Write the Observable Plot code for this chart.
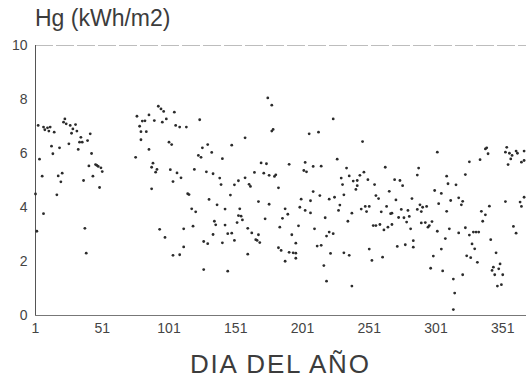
<!DOCTYPE html>
<html>
<head>
<meta charset="utf-8">
<script src="https://cdn.jsdelivr.net/npm/d3@7"></script>
<script src="https://cdn.jsdelivr.net/npm/@observablehq/plot@0.6"></script>
<style>
  html, body { margin: 0; padding: 0; background: #fff; }
  #wrap { position: relative; width: 526px; height: 379px; overflow: hidden; font-family: "Liberation Sans", Arial, sans-serif; color: #3c3c3c; }
  #chart { position: absolute; left: 0; top: 0; }
  .title { position: absolute; left: 35px; top: 7px; font-size: 23px; line-height: 1; white-space: nowrap; }
  .xlabel { position: absolute; left: 190px; top: 351px; font-size: 26px; line-height: 1; letter-spacing: 1.8px; white-space: nowrap; }
</style>
</head>
<body>
<div id="wrap">
  <div id="chart"></div>
  <div class="title">Hg (kWh/m2)</div>
  <div class="xlabel">DIA DEL AÑO</div>
</div>
<script>
const dia = [
  3,7,8,10,11,12,15,23,22,24,27,29,31,28,32,35,34,36,40,42,13,19,26,14,33,43,4,41,46,47,48,50,51,44,6,18,21,20,37,49,1,17,7,2,38,39,
  93,95,97,105,77,86,81,83,90,96,99,79,106,109,114,80,84,80,101,103,86,76,89,88,92,91,102,107,110,104,120,88,115,116,118,94,98,112,119,112,104,109,
  175,178,124,178,179,158,130,126,148,123,125,133,141,170,174,129,134,139,140,165,172,176,180,158,153,150,161,162,147,131,137,143,168,176,121,154,153,155,156,152,135,136,143,173,160,163,168,166,167,169,134,145,148,127,130,141,150,160,127,145,
  224,206,213,227,191,203,202,204,209,215,234,181,230,236,239,231,183,209,214,200,207,221,225,232,229,188,199,203,207,190,228,186,218,238,235,184,198,210,221,224,219,193,196,183,185,191,194,196,196,222,212,215,232,236,188,217,219,238,
  246,263,288,287,244,247,242,242,241,250,255,270,274,276,266,256,258,271,283,300,245,248,251,249,260,264,267,268,275,280,289,291,294,290,287,281,273,277,268,265,262,254,256,259,279,282,290,293,298,296,295,284,251,253,261,272,278,284,299,297,
  302,338,339,340,334,326,354,353,356,358,357,361,362,367,365,367,355,309,323,310,316,305,312,318,321,320,303,309,341,353,364,365,367,335,338,302,311,318,323,326,329,331,333,336,308,342,359,361,328,330,305,324,327,332,346,349,348,344,343,345,351,306,321,314,347,350,315,314
];
const hg = [
  7.04,6.98,6.88,6.95,6.83,6.98,6.79,7.28,7.16,7.1,7.04,6.91,7.07,6.75,6.83,6.6,6.42,6.42,6.48,6.73,6.27,6.21,6.36,5.99,6.15,6.0,5.79,5.54,5.59,5.56,5.52,5.47,5.33,5.16,5.16,5.17,5.27,4.95,5.0,4.74,4.5,4.47,3.77,3.12,3.23,2.31,
  7.75,7.65,7.56,7.53,7.38,7.43,7.2,7.21,7.22,7.16,7.28,7.01,7.04,6.98,6.98,6.81,6.81,6.51,6.42,6.33,6.15,5.86,5.64,5.49,5.41,5.31,5.4,5.28,5.1,4.96,5.41,4.69,4.51,4.48,3.95,3.19,2.89,3.21,3.31,2.54,2.23,2.25,
  8.06,7.79,7.25,6.83,6.89,6.58,6.33,6.21,6.31,5.93,5.86,6.04,5.81,5.65,5.62,5.32,5.25,5.09,4.85,5.3,5.27,5.19,5.15,5.1,4.99,4.84,4.86,4.78,4.46,4.3,4.1,3.94,4.22,4.12,3.84,3.95,3.7,3.68,3.54,3.44,3.49,3.36,3.35,3.58,3.23,3.06,2.99,2.81,2.78,2.7,3.0,3.03,3.05,2.74,2.66,2.69,2.78,2.27,1.7,1.64,
  7.28,6.73,6.79,5.79,5.6,5.67,5.37,5.32,5.52,5.53,5.46,5.21,5.09,5.17,4.98,4.85,4.73,4.59,4.44,4.31,4.25,4.31,4.38,4.47,4.09,3.95,4.01,3.89,3.8,3.75,3.89,3.6,3.62,3.79,3.49,3.27,3.32,3.21,3.09,3.03,2.94,2.99,2.68,2.51,2.41,2.34,2.32,2.31,2.12,2.3,2.57,2.6,2.32,2.23,2.01,1.85,1.27,1.09,
  6.44,5.49,5.46,5.2,5.19,5.31,5.0,4.81,4.67,5.03,4.85,5.03,5.0,4.81,4.6,4.44,4.33,4.28,4.33,4.63,3.94,4.04,4.04,3.85,3.84,4.04,3.77,3.79,3.93,3.89,4.1,4.01,4.04,3.85,3.93,3.67,3.63,3.62,3.37,3.27,3.17,3.33,3.33,3.37,3.46,3.21,3.43,3.44,3.48,3.33,3.27,2.77,2.46,2.04,2.16,2.56,2.62,2.53,2.2,1.75,
  6.05,6.17,6.21,5.99,5.77,5.69,6.23,6.05,6.01,5.93,5.8,6.09,6.01,6.09,5.68,5.74,5.59,5.16,5.22,4.88,4.84,4.52,4.26,4.36,4.23,4.1,4.14,3.86,4.05,4.22,4.2,4.04,4.38,3.86,3.73,3.12,3.21,3.06,3.25,2.98,3.09,3.09,3.09,3.49,2.85,2.81,3.3,3.05,2.65,2.47,2.46,2.21,2.14,1.97,2.32,1.91,1.73,1.79,1.67,1.51,1.51,1.65,1.51,1.35,1.09,1.14,0.83,0.22
];
const xTicks = [1, 51, 101, 151, 201, 251, 301, 351];
const yTicks = [0, 2, 4, 6, 8, 10];

const data = dia.map((d, i) => ({dia: d, hg: hg[i]}));

const chart = Plot.plot({
  width: 526,
  height: 379,
  marginLeft: 35,
  marginRight: 0,
  marginTop: 45,
  marginBottom: 64,
  x: {domain: [1, 368.8], ticks: xTicks, tickSize: 0, tickPadding: 8, label: null, tickFormat: d => String(d)},
  y: {domain: [0, 10], ticks: yTicks, tickSize: 0, tickPadding: 8, label: null},
  style: {fontFamily: "Liberation Sans, Arial, sans-serif", fontSize: "14px", color: "#444", background: "transparent"},
  marks: [
    Plot.ruleY([10], {stroke: "#bdbdbd", strokeDasharray: "18,3"}),
    Plot.ruleY([0], {stroke: "#777"}),
    Plot.ruleX([1], {stroke: "#555"}),
    Plot.dot(data, {x: "dia", y: "hg", r: 1.4, fill: "#2b2b2b"})
  ]
});
document.getElementById("chart").appendChild(chart);
</script>
</body>
</html>
